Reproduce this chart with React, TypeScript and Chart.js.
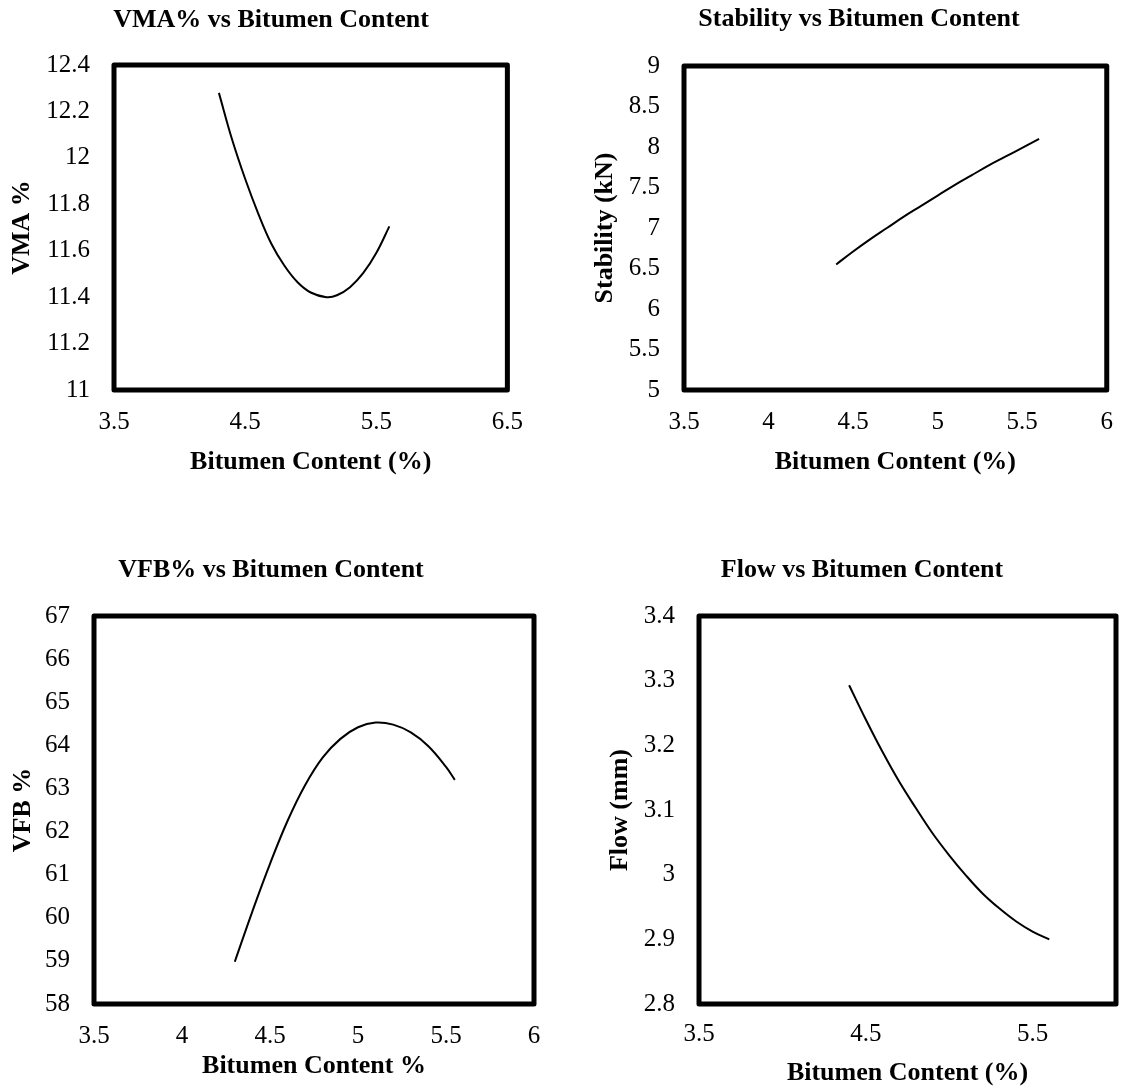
import { useEffect, useRef } from "react";
import { Chart, registerables } from "chart.js";

Chart.register(...registerables);

// ---------- data ----------
const vmaX = [4.3, 4.4, 4.5, 4.6, 4.7, 4.8, 4.9, 5.0, 5.12, 5.2, 5.3, 5.4, 5.5, 5.6];
const vmaY = [12.28, 12.08, 11.91, 11.76, 11.63, 11.535, 11.464, 11.42, 11.4, 11.408, 11.443, 11.503, 11.59, 11.705];
const vmaXTicks = [3.5, 4.5, 5.5, 6.5];
const vmaYTicks = [11, 11.2, 11.4, 11.6, 11.8, 12, 12.2, 12.4];

const stabX = [4.4, 4.5, 4.6, 4.7, 4.8, 4.9, 5.0, 5.1, 5.2, 5.3, 5.4, 5.5, 5.6];
const stabY = [6.55, 6.71, 6.86, 7.0, 7.14, 7.27, 7.4, 7.53, 7.65, 7.77, 7.88, 7.99, 8.1];
const stabXTicks = [3.5, 4, 4.5, 5, 5.5, 6];
const stabYTicks = [5, 5.5, 6, 6.5, 7, 7.5, 8, 8.5, 9];

const vfbX = [4.3, 4.4, 4.5, 4.6, 4.7, 4.8, 4.9, 5.0, 5.1, 5.2, 5.3, 5.4, 5.5, 5.55];
const vfbY = [58.98, 60.15, 61.25, 62.25, 63.08, 63.72, 64.15, 64.42, 64.53, 64.48, 64.3, 63.98, 63.5, 63.2];
const vfbXTicks = [3.5, 4, 4.5, 5, 5.5, 6];
const vfbYTicks = [58, 59, 60, 61, 62, 63, 64, 65, 66, 67];

const flowX = [4.4, 4.5, 4.6, 4.7, 4.8, 4.9, 5.0, 5.1, 5.2, 5.3, 5.4, 5.5, 5.6];
const flowY = [3.293, 3.24, 3.19, 3.144, 3.103, 3.064, 3.03, 2.999, 2.971, 2.948, 2.928, 2.912, 2.9];
const flowXTicks = [3.5, 4.5, 5.5];
const flowYTicks = [2.8, 2.9, 3.0, 3.1, 3.2, 3.3, 3.4];

// ---------- layout ----------
const FONT = "'Liberation Serif', 'Times New Roman', serif";
const TICK_SIZE = 25;
const TITLE_SIZE = 26;

type Panel = {
  title: string;
  xTitle: string;
  yTitle: string;
  xs: number[];
  ys: number[];
  xTicks: number[];
  yTicks: number[];
  xMin: number;
  xMax: number;
  yMin: number;
  yMax: number;
  left: number;
  top: number;
  width: number;
  height: number;
  padTop: number;
  padRight: number;
  yAxisW: number;
  xAxisH: number;
  xTickPad: number;
  yTitlePad: number;
  titleX: number;
  titleY: number;
};

const panels: Panel[] = [
  {
    title: "VMA% vs Bitumen Content", xTitle: "Bitumen Content (%)", yTitle: "VMA %",
    xs: vmaX, ys: vmaY, xTicks: vmaXTicks, yTicks: vmaYTicks,
    xMin: 3.5, xMax: 6.5, yMin: 11, yMax: 12.4,
    left: 0, top: 0, width: 540, height: 478,
    padTop: 65, padRight: 32, yAxisW: 114, xAxisH: 88, xTickPad: 17, yTitlePad: 7,
    titleX: 271, titleY: 20,
  },
  {
    title: "Stability vs Bitumen Content", xTitle: "Bitumen Content (%)", yTitle: "Stability (kN)",
    xs: stabX, ys: stabY, xTicks: stabXTicks, yTicks: stabYTicks,
    xMin: 3.5, xMax: 6, yMin: 5, yMax: 9,
    left: 580, top: 0, width: 550, height: 478,
    padTop: 66, padRight: 14, yAxisW: 104, xAxisH: 88, xTickPad: 17, yTitlePad: 10,
    titleX: 279, titleY: 19,
  },
  {
    title: "VFB% vs Bitumen Content", xTitle: "Bitumen Content %", yTitle: "VFB %",
    xs: vfbX, ys: vfbY, xTicks: vfbXTicks, yTicks: vfbYTicks,
    xMin: 3.5, xMax: 6, yMin: 58, yMax: 67,
    left: 0, top: 540, width: 560, height: 542,
    padTop: 76, padRight: 26, yAxisW: 94, xAxisH: 78, xTickPad: 17, yTitlePad: 8,
    titleX: 271, titleY: 30,
  },
  {
    title: "Flow vs Bitumen Content", xTitle: "Bitumen Content (%)", yTitle: "Flow (mm)",
    xs: flowX, ys: flowY, xTicks: flowXTicks, yTicks: flowYTicks,
    xMin: 3.5, xMax: 6, yMin: 2.8, yMax: 3.4,
    left: 580, top: 540, width: 550, height: 549,
    padTop: 76, padRight: 14, yAxisW: 119, xAxisH: 85, xTickPad: 15, yTitlePad: 25,
    titleX: 282, titleY: 30,
  },
];

const fmt = (v: number | string) => String(Number(Number(v).toFixed(3)));

function PanelChart({ p }: { p: Panel }) {
  const ref = useRef<HTMLCanvasElement | null>(null);
  useEffect(() => {
    if (!ref.current) return;
    const framePlugin = {
      id: "frame",
      afterDatasetsDraw(chart: any) {
        const { ctx, chartArea } = chart;
        ctx.save();
        ctx.strokeStyle = "#000";
        ctx.lineWidth = 5;
        ctx.lineJoin = "round";
        ctx.strokeRect(chartArea.left, chartArea.top, chartArea.right - chartArea.left, chartArea.bottom - chartArea.top);
        ctx.restore();
      },
    };
    const titlePlugin = {
      id: "panelTitle",
      afterDraw(chart: any) {
        const ctx = chart.ctx;
        ctx.save();
        ctx.font = `bold ${TITLE_SIZE}px ${FONT}`;
        ctx.fillStyle = "#000";
        ctx.textAlign = "center";
        ctx.textBaseline = "middle";
        ctx.fillText(p.title, p.titleX, p.titleY);
        ctx.restore();
      },
    };
    const chart = new Chart(ref.current, {
      type: "scatter",
      data: {
        datasets: [
          {
            data: p.xs.map((x, i) => ({ x, y: p.ys[i] })),
            showLine: true,
            borderColor: "#000",
            backgroundColor: "#000",
            borderWidth: 2,
            pointRadius: 0,
            tension: 0.4,
            fill: false,
          } as any,
        ],
      },
      options: {
        animation: false,
        responsive: false,
        layout: { padding: { top: p.padTop, right: p.padRight, left: 0, bottom: 0 } },
        plugins: {
          legend: { display: false },
          tooltip: { enabled: false },
          title: { display: false },
        },
        scales: {
          x: {
            type: "linear",
            min: p.xMin,
            max: p.xMax,
            grid: { display: false, drawTicks: false },
            border: { display: false },
            afterBuildTicks: (s: any) => {
              s.ticks = p.xTicks.map((v) => ({ value: v }));
            },
            afterFit: (s: any) => {
              s.height = p.xAxisH;
            },
            ticks: {
              padding: p.xTickPad,
              autoSkip: false,
              maxRotation: 0,
              color: "#000",
              font: { family: FONT, size: TICK_SIZE },
              callback: (v: any) => fmt(v),
            },
            title: {
              display: true,
              text: p.xTitle,
              color: "#000",
              font: { family: FONT, size: TITLE_SIZE, weight: "bold" },
              padding: { top: 0, bottom: 0 },
            },
          },
          y: {
            type: "linear",
            min: p.yMin,
            max: p.yMax,
            grid: { display: false, drawTicks: false },
            border: { display: false },
            afterBuildTicks: (s: any) => {
              s.ticks = p.yTicks.map((v) => ({ value: v }));
            },
            afterFit: (s: any) => {
              s.width = p.yAxisW;
            },
            ticks: {
              padding: 24,
              autoSkip: false,
              color: "#000",
              font: { family: FONT, size: TICK_SIZE },
              callback: (v: any) => fmt(v),
            },
            title: {
              display: true,
              text: p.yTitle,
              color: "#000",
              font: { family: FONT, size: TITLE_SIZE, weight: "bold" },
              padding: { top: p.yTitlePad, bottom: 0 },
            },
          },
        },
      } as any,
      plugins: [framePlugin, titlePlugin],
    });
    return () => chart.destroy();
  }, [p]);
  return (
    <canvas
      ref={ref}
      width={p.width}
      height={p.height}
      style={{ position: "absolute", left: p.left, top: p.top, width: p.width, height: p.height }}
    />
  );
}

export default function App() {
  return (
    <div style={{ position: "absolute", left: 0, top: 0, width: 1130, height: 1090, background: "#fff", overflow: "hidden" }}>
      {panels.map((p, i) => (
        <PanelChart key={i} p={p} />
      ))}
    </div>
  );
}
